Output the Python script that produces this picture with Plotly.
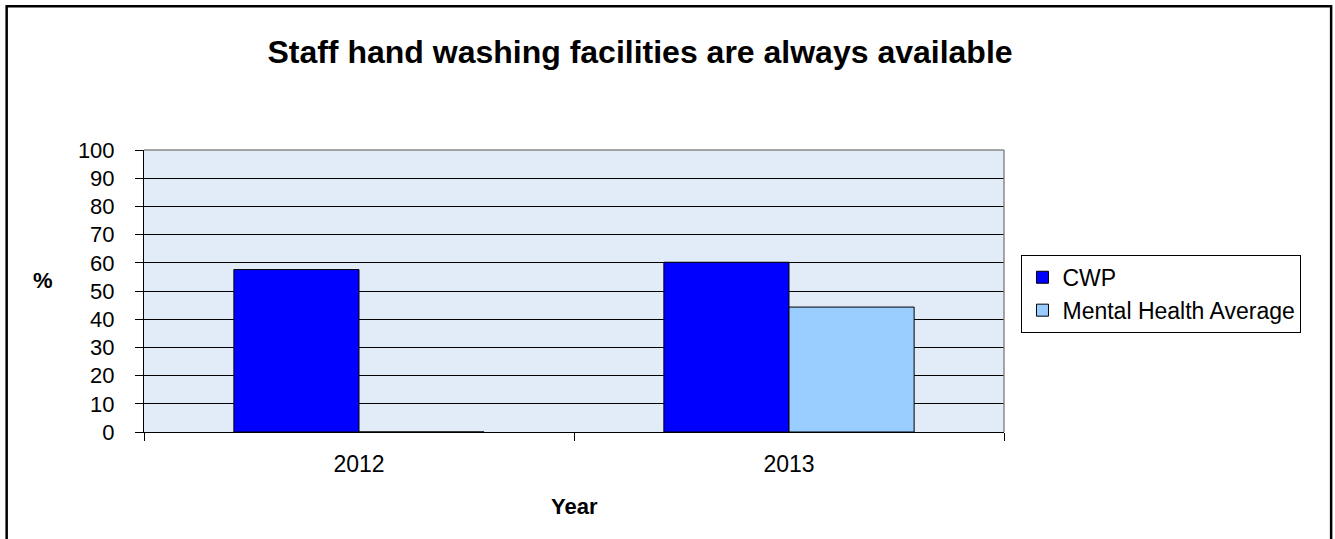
import plotly.graph_objects as go

years = ["2012", "2013"]
cwp = [57.6, 60.2]
mha = [0, 44.3]
yticks = list(range(0, 101, 10))

W, H = 1335, 539
L, R, T, B = 143.5, 1004.5, 150, 432.5

fig = go.Figure()
fig.add_trace(go.Bar(x=years, y=cwp, name="CWP", marker=dict(color="#0000ff", line=dict(color="#000000", width=1))))
fig.add_trace(go.Bar(x=years, y=mha, name="Mental Health Average", marker=dict(color="#99ccff", line=dict(color="#000000", width=1))))

fig.update_layout(
    width=W, height=H,
    margin=dict(l=L, r=W - R, t=T, b=H - B),
    paper_bgcolor="white",
    plot_bgcolor="#e2ecf9",
    barmode="group", bargap=0.418, bargroupgap=0,
    font=dict(family="Arial, Liberation Sans", size=22, color="#000"),
    title=dict(text="<b>Staff hand washing facilities are always available</b>", x=640 / W, xanchor="center",
               y=1 - 52 / H, yanchor="middle", font=dict(size=32)),
    showlegend=True,
    legend=dict(x=(1022 - L) / (R - L), y=(B - 255) / (B - T), xanchor="left", yanchor="top",
                bordercolor="#000", borderwidth=1, bgcolor="white", font=dict(size=23),
                tracegroupgap=0, itemwidth=30),
    xaxis=dict(type="category", showgrid=False, tickson="boundaries", ticks="outside", ticklen=8,
               tickcolor="#000", showline=True, linecolor="#000", linewidth=1, tickfont=dict(size=23),
               ticklabelstandoff=11),
    yaxis=dict(range=[0, 100], tickvals=yticks, ticks="outside", ticklen=8, tickcolor="#000",
               showgrid=True, gridcolor="#000", gridwidth=1, showline=True, linecolor="#000",
               linewidth=1, tickfont=dict(size=22), zeroline=False, ticklabelstandoff=16),
    shapes=[
        dict(type="line", xref="paper", yref="paper", x0=1, x1=1, y0=0, y1=1, line=dict(color="#888", width=1.5)),
        dict(type="line", xref="paper", yref="paper", x0=0, x1=1, y0=1, y1=1, line=dict(color="#888", width=1.5)),
        dict(type="rect", xref="paper", yref="paper",
             x0=(6 - L) / (R - L), x1=(1332 - L) / (R - L),
             y0=(B - 545) / (B - T), y1=(B - 6) / (B - T),
             line=dict(color="#000", width=2.5), layer="below"),
    ],
    annotations=[
        dict(text="<b>%</b>", xref="paper", yref="paper", x=(42 - L) / (R - L), y=(B - 281) / (B - T),
             showarrow=False, font=dict(size=22), xanchor="center", yanchor="middle"),
        dict(text="<b>Year</b>", xref="paper", yref="paper", x=(575 - L) / (R - L), y=(B - 507) / (B - T),
             showarrow=False, font=dict(size=22), xanchor="center", yanchor="middle"),
    ],
)

fig.write_html("out.html")
